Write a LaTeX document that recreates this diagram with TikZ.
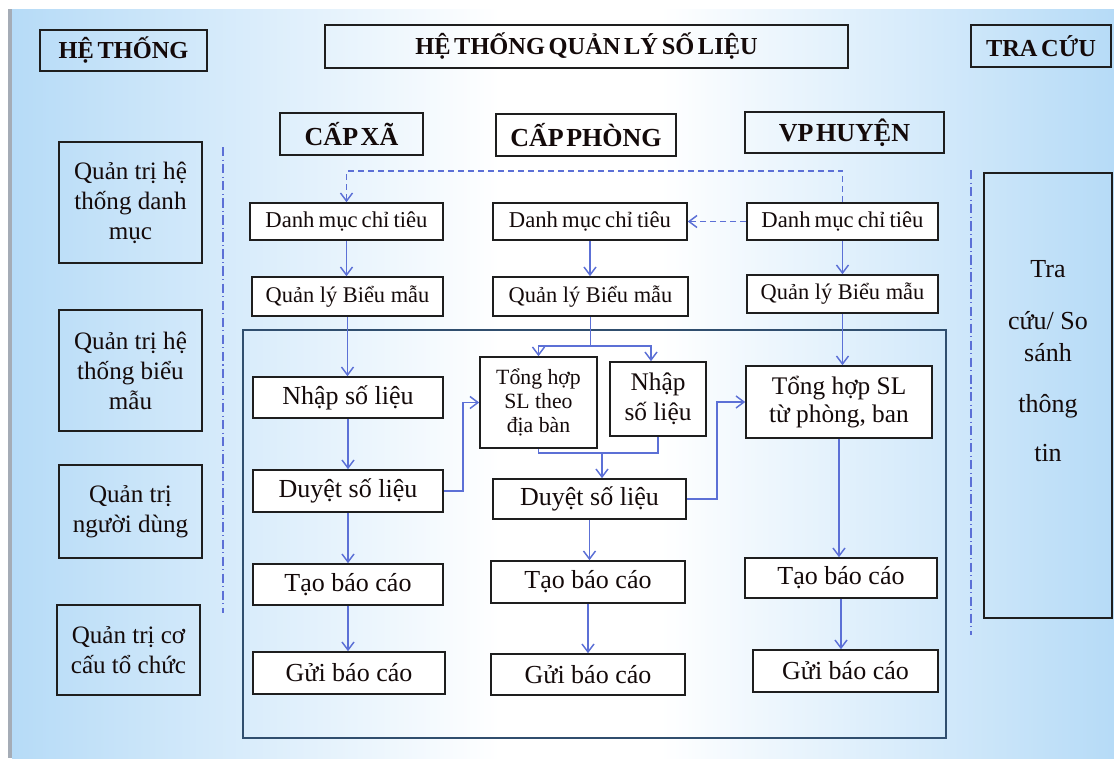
\documentclass[tikz,border=0pt]{standalone}
\usepackage{fontspec}
\setmainfont{Liberation Serif}
\usetikzlibrary{arrows.meta,calc}
\definecolor{bgblue}{RGB}{182,219,247}
\definecolor{graybar}{RGB}{165,172,182}
\definecolor{arrowblue}{RGB}{92,112,214}
\definecolor{framec}{RGB}{48,78,110}
\definecolor{boxc}{RGB}{30,30,30}
\definecolor{txt}{RGB}{20,10,10}
\tikzset{
  rect/.style args={#1/#2/#3/#4}{at={({(#1+#3)/2},{(#2+#4)/2})}, anchor=center,
     minimum width={(#3-#1)*0.75pt}, minimum height={(#4-#2)*0.75pt}},
  bx/.style={draw=boxc, line width=1.2pt, inner sep=0pt, align=center, text=txt},
  wbx/.style={bx, fill=white},
  hd/.style={bx, font={\fontsize{18.3}{22}\selectfont\bfseries\spaceskip=0.15em plus 0.05em}},
  lvl/.style={bx, font={\fontsize{19.5}{23}\selectfont\bfseries\spaceskip=0.1em plus 0.05em}},
  fdm/.style={wbx, font={\fontsize{17}{20}\selectfont\spaceskip=0.18em plus 0.05em}},
  fql/.style={wbx, font={\fontsize{16.8}{20}\selectfont}},
  fmd/.style={wbx, font={\fontsize{19.5}{23}\selectfont}},
  ftg/.style={wbx, font={\fontsize{16.3}{18}\selectfont}},
  fns/.style={wbx, font={\fontsize{19}{22.5}\selectfont}},
  fth/.style={wbx, font={\fontsize{19}{21}\selectfont}},
  fleft/.style={bx, font={\fontsize{18.8}{22.5}\selectfont}},
  frame/.style={draw=framec, line width=1.1pt, inner sep=0pt},
  conn/.style={draw=arrowblue, line width=1.1pt, -{Straight Barb[length=6pt,width=9pt]}},
  plain/.style={draw=arrowblue, line width=1.1pt},
  dsh/.style={dash pattern=on 4.5pt off 3pt},
  dashdotline/.style={draw=arrowblue, line width=1pt, dash pattern=on 7pt off 2.5pt on 0.8pt off 2.5pt},
}
\begin{document}
\begin{tikzpicture}[x=0.75pt,y=-0.75pt]
\useasboundingbox (0,0) rectangle (1114,758);
% background
\fill[white] (0,0) rectangle (1114,758);
\shade[left color=bgblue, right color=white] (12,9) rectangle (500,758);
\fill[white] (499,9) rectangle (661,758);
\shade[left color=white, right color=bgblue] (660,9) rectangle (1114,758);
\fill[graybar] (8,9) rectangle (12,758);

% top headers
\node[hd, rect=40/30/207/71] (sys) {HỆ THỐNG};
\node[hd, rect=325/25/848/68] (title) {HỆ THỐNG QUẢN LÝ SỐ LIỆU};
\node[hd, rect=971/25/1111/67] (tc) {TRA CỨU};

% level headers
\node[lvl, rect=280/113/423/155] (xa) {CẤP XÃ};
\node[lvl, rect=496/114/676/156] (phong) {CẤP PHÒNG};
\node[lvl, rect=745/112/944/153] (vp) {VP HUYỆN};

% left column
\node[fleft, rect=59/142/202/263] (l1) {Quản trị hệ\\thống danh\\mục};
\node[fleft, rect=59/310/202/431] (l2) {Quản trị hệ\\thống biểu\\mẫu};
\node[fleft, rect=59/465/202/558] (l3) {Quản trị\\người dùng};
\node[fleft, rect=57/605/200/695] (l4) {Quản trị cơ\\cấu tổ chức};

% right column
\node[bx, rect=984/173/1112/618] (tcbox) {};
\node[text=txt, align=center, font={\fontsize{19.5}{24}\selectfont}, anchor=north] (tctext) at (1048,256)
  {Tra\\[15pt]cứu/ So\\sánh\\[14pt]thông\\[13pt]tin};

% separators
\coordinate (sepLa) at (223,147);
\coordinate (sepLb) at (223,613);
\coordinate (sepRa) at (971,170);
\coordinate (sepRb) at (971,635);
\draw[dashdotline] (sepLa) -- (sepLb);
\draw[dashdotline] (sepRa) -- (sepRb);

% rows
\node[fdm, rect=250/203/443/240] (dm1) {Danh mục chỉ tiêu};
\node[fdm, rect=493/203/687/240] (dm2) {Danh mục chỉ tiêu};
\node[fdm, rect=747/203/938/240] (dm3) {Danh mục chỉ tiêu};
\node[fql, rect=252/277/443/316] (ql1) {Quản lý Biểu mẫu};
\node[fql, rect=493/277/688/316] (ql2) {Quản lý Biểu mẫu};
\node[fql, rect=747/275/938/313] (ql3) {Quản lý Biểu mẫu};

% frame
\node[frame, rect=243/330/946/738] (area) {};

% xa column
\node[fmd, rect=253/377/443/418] (n1) {Nhập số liệu};
\node[fmd, rect=253/470/443/512] (d1) {Duyệt số liệu};
\node[fmd, rect=253/564/443/605] (t1) {Tạo báo cáo};
\node[fmd, rect=253/652/445/694] (g1) {Gửi báo cáo};

% phong column
\node[ftg, rect=480/357/597/448] (th2) {Tổng hợp\\SL theo\\địa bàn};
\node[fns, rect=610/362/706/436] (n2) {Nhập\\số liệu};
\node[fmd, rect=493/479/686/519] (d2) {Duyệt số liệu};
\node[fmd, rect=491/561/685/603] (t2) {Tạo báo cáo};
\node[fmd, rect=491/654/685/695] (g2) {Gửi báo cáo};

% vp column
\node[fth, rect=746/366/932/438] (th3) {Tổng hợp SL\\từ phòng, ban};
\node[fmd, rect=745/558/937/598] (t3) {Tạo báo cáo};
\node[fmd, rect=753/650/938/692] (g3) {Gửi báo cáo};

% dashed connectors
\draw[conn, dsh] (dm3.north) -- ++(0,-31) -| (dm1.north);
\draw[conn, dsh] (dm3.west) -- (dm2.east);

% vertical connectors
\draw[conn] (dm1.south) -- (dm1.south |- ql1.north);
\draw[conn] (dm2.south) -- (dm2.south |- ql2.north);
\draw[conn] (dm3.south) -- (dm3.south |- ql3.north);
\draw[conn] (ql1.south) -- (ql1.south |- n1.north);
\draw[conn] (ql3.south) -- (ql3.south |- th3.north);

% split from ql2
\coordinate (sp) at ($(ql2.south)+(0,29)$);
\coordinate (n2in) at ($(n2.north)+(-7,0)$);
\draw[plain] (ql2.south) -- (sp);
\draw[conn] (sp) -| (th2.north);
\draw[conn] (sp) -| (n2in);

% xa column
\draw[conn] (n1.south) -- (n1.south |- d1.north);
\draw[conn] (d1.south) -- (d1.south |- t1.north);
\draw[conn] (t1.south) -- (t1.south |- g1.north);

% d1 -> th2
\draw[conn] (d1.east) -- ++(19,0) |- (th2.west);

% merge into d2
\coordinate (jy) at (0,453);
\coordinate (d2in) at ($(d2.north)+(12.5,0)$);
\draw[plain] (th2.south) |- (n2.south |- jy) -- (n2.south);
\draw[conn] (d2in |- jy) -- (d2in);

% d2 -> th3
\draw[conn] (d2.east) -- ++(30,0) |- (th3.west);

% phong column
\draw[conn] (d2.south) -- (d2.south |- t2.north);
\draw[conn] (t2.south) -- (t2.south |- g2.north);

% vp column
\draw[conn] (th3.south) -- (th3.south |- t3.north);
\draw[conn] (t3.south) -- (t3.south |- g3.north);
\end{tikzpicture}
\end{document}
